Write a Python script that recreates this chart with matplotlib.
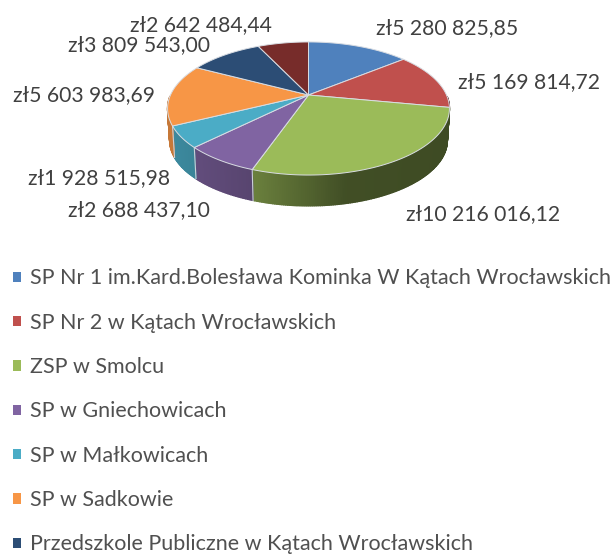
import matplotlib

matplotlib.use("Agg")
import matplotlib.pyplot as plt
import numpy as np
from matplotlib.patches import Patch

VALUES = [5280825.85, 5169814.72, 10216016.12, 2688437.10, 1928515.98,
          5603983.69, 3809543.00, 2642484.44]
COLORS = ["#4F81BD", "#C0504D", "#9BBB59", "#8064A2", "#4BACC6", "#F79646",
          "#2C4D75", "#772C2A"]
NAMES = ["SP Nr 1 im.Kard.Bolesława Kominka W Kątach Wrocławskich",
         "SP Nr 2 w Kątach Wrocławskich", "ZSP w Smolcu", "SP w Gniechowicach",
         "SP w Małkowicach", "SP w Sadkowie",
         "Przedszkole Publiczne w Kątach Wrocławskich"]
# left edge and vertical centre of each value label, pixels
LABEL_POS = [(376, 28), (458, 82), (406, 214), (68, 210), (28, 178), (13, 95),
             (68, 45), (130, 25)]

# the pie is a tilted disc, so the apex sits above the middle of the ellipse
CX, CY = 308.5, 95
A, B, K = 138, 63.8, 0.203
DEPTH = 32
TEXT = "#404040"

plt.rcParams["font.family"] = ["Lato", "DejaVu Sans"]


def disc(t, drop=0.0, scale=1.0):
    """Screen position of angle t (radians, anticlockwise from 3 o'clock)."""
    d = 1 + K * np.sin(t)
    return CX + scale * A * np.cos(t) / d, CY + drop - scale * B * np.sin(t) / d


def shade(color, x):
    """Side walls get darker from the left of the pie to the right."""
    rgb = np.array(matplotlib.colors.to_rgb(color))
    f = np.interp(x, [170, 255, 345, 450], [0.8, 0.68, 0.42, 0.4])
    return tuple(rgb * f)


def pln(v):
    return "zł" + f"{v:,.2f}".replace(",", " ").replace(".", ",")


fig = plt.figure(figsize=(6.16, 5.58), dpi=100)
ax = fig.add_axes([0, 0, 1, 1])
ax.set_xlim(0, 616)
ax.set_ylim(558, 0)
ax.axis("off")

edges = np.pi / 2 - 2 * np.pi * np.concatenate([[0], np.cumsum(VALUES)]) / np.sum(VALUES)

# side walls first, only the near half of the disc shows
for color, t0, t1 in zip(COLORS, edges[:-1], edges[1:]):
    ts = np.linspace(t0, t1, max(2, int((t0 - t1) * 90)))
    for a, b in zip(ts[:-1], ts[1:]):
        if np.sin((a + b) / 2) > -0.02:
            continue
        xa, ya = disc(a)
        xb, yb = disc(b)
        xc, yc = disc(b, DEPTH, 0.985)
        xd, yd = disc(a, DEPTH, 0.985)
        c = shade(color, (xa + xb) / 2)
        ax.fill([xa, xb, xc, xd], [ya, yb, yc, yd], facecolor=c, edgecolor=c,
                lw=1.0, zorder=2)
    # pale seam between walls on the left half only
    if np.sin(t1) < 0 and np.cos(t1) < 0:
        x0, y0 = disc(t1)
        x1, y1 = disc(t1, DEPTH, 0.985)
        ax.plot([x0, x1], [y0, y1], color="#c9d0d8", lw=0.8, zorder=3)

# top face
for color, t0, t1 in zip(COLORS, edges[:-1], edges[1:]):
    ts = np.linspace(t0, t1, 80)
    x, y = disc(ts)
    ax.fill(np.r_[CX, x], np.r_[CY, y], facecolor=color, edgecolor="#d9dde3",
            lw=0.7, zorder=4)

for v, (x, y) in zip(VALUES, LABEL_POS):
    ax.text(x, y, pln(v), ha="left", va="center", fontsize=15.2, color=TEXT, zorder=5)

handles = [Patch(facecolor=c, edgecolor="none") for c in COLORS[:len(NAMES)]]
ax.legend(handles, NAMES, loc="upper left", bbox_to_anchor=(13, 268.5),
          bbox_transform=ax.transData, frameon=False, fontsize=15.5,
          labelcolor="#505050", handlelength=0.37, handleheight=0.37,
          handletextpad=0.42, labelspacing=1.13, borderpad=0, borderaxespad=0)

fig.savefig("out.png", dpi=100)
